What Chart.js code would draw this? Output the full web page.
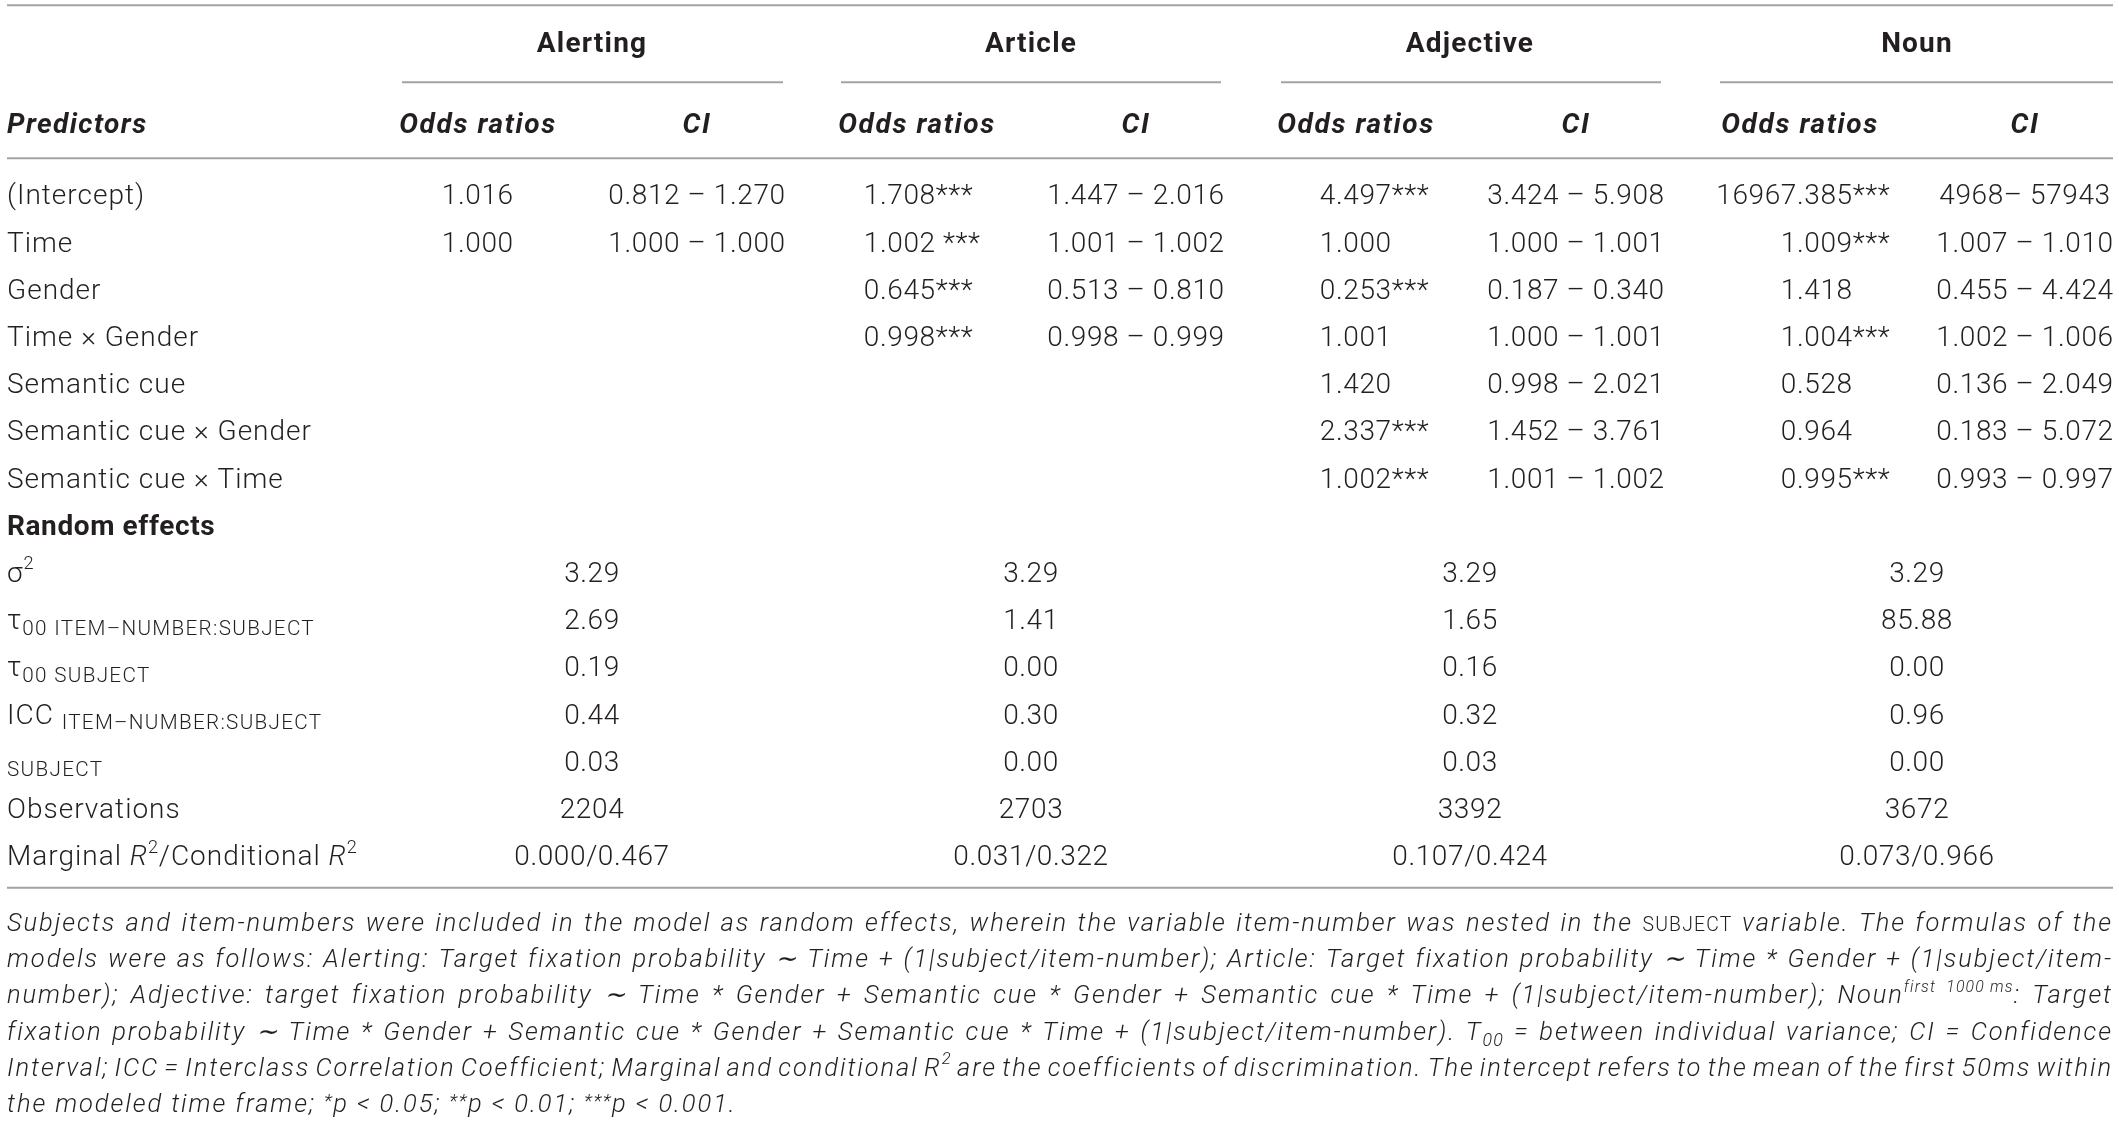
<!DOCTYPE html>
<html lang="en">
<head>
<meta charset="utf-8">
<script src="https://cdn.jsdelivr.net/npm/chart.js@4.4.1/dist/chart.umd.min.js"></script>
<style>
    html, body {margin:0; padding:0; background:#fff;}
    #wrap {width:2119px; height:1127px;}
</style>
</head>
<body>

<div id="wrap"><canvas id="canvas" width="2119" height="1127"></canvas></div>

<script type="text/javascript">
'use strict';

// ---- table values ----
var models = ['Alerting', 'Article', 'Adjective', 'Noun'];
var predictors = ['(Intercept)', 'Time', 'Gender', 'Time \u00d7 Gender', 'Semantic cue',
                  'Semantic cue \u00d7 Gender', 'Semantic cue \u00d7 Time'];

var oddsAlerting  = [1.016, 1.000];
var oddsArticle   = [1.708, 1.002, 0.645, 0.998];
var oddsAdjective = [4.497, 1.000, 0.253, 1.001, 1.420, 2.337, 1.002];
var oddsNoun      = [16967.385, 1.009, 1.418, 1.004, 0.528, 0.964, 0.995];

var sigAlerting  = ['', ''];
var sigArticle   = ['***', ' ***', '***', '***'];
var sigAdjective = ['***', '', '***', '', '', '***', '***'];
var sigNoun      = ['***', '***', '', '***', '', '', '***'];

var ciAlerting  = [[0.812, 1.270], [1.000, 1.000]];
var ciArticle   = [[1.447, 2.016], [1.001, 1.002], [0.513, 0.810], [0.998, 0.999]];
var ciAdjective = [[3.424, 5.908], [1.000, 1.001], [0.187, 0.340], [1.000, 1.001],
                   [0.998, 2.021], [1.452, 3.761], [1.001, 1.002]];
var ciNoun      = [[4968, 57943], [1.007, 1.010], [0.455, 4.424], [1.002, 1.006],
                   [0.136, 2.049], [0.183, 5.072], [0.993, 0.997]];

var sigma2        = [3.29, 3.29, 3.29, 3.29];
var tau00Item     = [2.69, 1.41, 1.65, 85.88];
var tau00Subject  = [0.19, 0.00, 0.16, 0.00];
var iccItem       = [0.44, 0.30, 0.32, 0.96];
var iccSubject    = [0.03, 0.00, 0.03, 0.00];
var observations  = [2204, 2703, 3392, 3672];
var marginalR2    = [0.000, 0.031, 0.107, 0.073];
var conditionalR2 = [0.467, 0.322, 0.424, 0.966];

// row labels of the random effects block (runs: sz = relative size, dy = shift in em)
var randomLabels = [
    [{t: '\u03c3'}, {t: '2', sz: 0.65, dy: -0.45}],
    [{t: '\u03c4'}, {t: '00 ITEM\u2013NUMBER:SUBJECT', sz: 0.74, dy: 0.2, ls: 1.3}],
    [{t: '\u03c4'}, {t: '00 SUBJECT', sz: 0.74, dy: 0.2, ls: 1.3}],
    [{t: 'ICC '}, {t: 'ITEM\u2013NUMBER:SUBJECT', sz: 0.74, dy: 0.2, ls: 1.3}],
    [{t: 'SUBJECT', sz: 0.74, dy: 0.2, ls: 1.3}],
    [{t: 'Observations'}],
    [{t: 'Marginal '}, {t: 'R', s: 'i'}, {t: '2', sz: 0.65, dy: -0.45}, {t: '/Conditional '},
     {t: 'R', s: 'i'}, {t: '2', sz: 0.65, dy: -0.45}]
];

var footnote = [
    [{t: 'Subjects and item-numbers were included in the model as random effects, wherein the variable item-number was nested in the ', s: 'i'},
     {t: 'SUBJECT', sz: 0.76, ls: 1.2}, {t: ' variable. The formulas of the', s: 'i'}],
    [{t: 'models were as follows: Alerting: Target fixation probability \u223c Time + (1|subject/item-number); Article: Target fixation probability \u223c Time * Gender + (1|subject/item-', s: 'i'}],
    [{t: 'number); Adjective: target fixation probability \u223c Time * Gender + Semantic cue * Gender + Semantic cue * Time + (1|subject/item-number); Noun', s: 'i'},
     {t: 'first  1000 ms', s: 'i', sz: 0.62, dy: -0.45}, {t: ': Target', s: 'i'}],
    [{t: 'fixation probability \u223c Time * Gender + Semantic cue * Gender + Semantic cue * Time + (1|subject/item-number). T', s: 'i'},
     {t: '00', s: 'i', sz: 0.7, dy: 0.25}, {t: ' = between individual variance; CI = Confidence', s: 'i'}],
    [{t: 'Interval; ICC = Interclass Correlation Coefficient; Marginal and conditional R', s: 'i'},
     {t: '2', s: 'i', sz: 0.65, dy: -0.45},
     {t: ' are the coefficients of discrimination. The intercept refers to the mean of the first 50ms within', s: 'i'}],
    [{t: 'the modeled time frame; ', s: 'i'}, {t: '*', s: 'i', sz: 0.75, dy: -0.2}, {t: 'p < 0.05; ', s: 'i'},
     {t: '**', s: 'i', sz: 0.75, dy: -0.2}, {t: 'p < 0.01; ', s: 'i'},
     {t: '***', s: 'i', sz: 0.75, dy: -0.2}, {t: 'p < 0.001.', s: 'i'}]
];

// ---- layout (x in px, y in row units) ----
var W = 2119, H = 1127;
var ROW0 = 194.5, ROW_H = 47.2;
var LEFT = 7, RIGHT = 2113;
var groupX = [592, 1031, 1470, 1917];
var orHeadX = [478, 917, 1356, 1800];
var orDotX = [458, 880, 1336, 1797];
var ciX = [697, 1136, 1576, 2025];
var groupRuleX = [[402, 783], [841, 1221], [1281, 1661], [1720, 2113]];
var TOP_RULE = -4.01, GROUP_ROW = -3.23, GROUP_RULE = -2.38, SUB_ROW = -1.52, HEAD_RULE = -0.77;
var BOTTOM_RULE = 14.69, NOTE_ROW = 15.41, NOTE_STEP = 0.767;

var FONT = 'Roboto, "Liberation Sans", sans-serif';
var INK = '#231f20';
var RULE = '#a3a3a3';
var CAP = 0.711;
var LS_INCLUDED = null;

function fontFor(run, size) {
    var st = run.s || 'n';
    var wt = st.indexOf('b') >= 0 ? '700' : '300';
    var it = st.indexOf('i') >= 0 ? 'italic ' : '';
    return it + wt + ' ' + (size * (run.sz || 1)).toFixed(1) + 'px ' + FONT;
}

function setSpacing(ctx, ls) {
    if ('letterSpacing' in ctx) ctx.letterSpacing = ls.toFixed(2) + 'px';
}

function measure(ctx, text, ls) {
    if (LS_INCLUDED === null) {
        if ('letterSpacing' in ctx) {
            ctx.letterSpacing = '0px';
            var a = ctx.measureText('abc').width;
            ctx.letterSpacing = '10px';
            var b = ctx.measureText('abc').width;
            ctx.letterSpacing = '0px';
            LS_INCLUDED = (b - a) > 15;
        } else {
            LS_INCLUDED = true;
        }
    }
    setSpacing(ctx, ls);
    var w = ctx.measureText(text).width;
    if (!LS_INCLUDED) w += ls * text.length;
    return w;
}

function runSpacing(r, ls) {
    return r.ls != null ? r.ls : ls * (r.sz || 1);
}

function naturalWidth(ctx, runs, size, ls) {
    return runs.reduce(function(acc, r) {
        ctx.font = fontFor(r, size);
        return acc + measure(ctx, r.t, runSpacing(r, ls));
    }, 0);
}

function drawRuns(ctx, runs, x, y, size, align, ls, justifyW) {
    var base = y + CAP * size / 2;
    var widths = runs.map(function(r) {
        ctx.font = fontFor(r, size);
        return measure(ctx, r.t, runSpacing(r, ls));
    });
    var total = widths.reduce(function(a, b) { return a + b; }, 0);
    var extra = 0;
    if (justifyW) {
        var n = 0;
        runs.forEach(function(r) { if (!r.sz) n += r.t.split(' ').length - 1; });
        if (n) extra = (justifyW - total) / n;
    }
    var cx = x;
    if (align === 'center') cx = x - total / 2;
    else if (align === 'right') cx = x - total;
    else if (align === 'dot') {
        ctx.font = fontFor(runs[0], size);
        cx = x - measure(ctx, runs[0].t.split('.')[0], runSpacing(runs[0], ls));
    }
    ctx.fillStyle = INK;
    ctx.textBaseline = 'alphabetic';
    ctx.textAlign = 'left';
    runs.forEach(function(r, i) {
        var rls = runSpacing(r, ls);
        ctx.font = fontFor(r, size);
        setSpacing(ctx, rls);
        var by = base + (r.dy || 0) * size;
        if (extra && !r.sz) {
            var parts = r.t.split(' ');
            var sp = measure(ctx, ' ', rls);
            parts.forEach(function(p, k) {
                setSpacing(ctx, rls);
                ctx.fillText(p, cx, by);
                cx += measure(ctx, p, rls);
                if (k < parts.length - 1) cx += sp + extra;
            });
        } else {
            ctx.fillText(r.t, cx, by);
            cx += widths[i];
        }
    });
    setSpacing(ctx, 0);
}

var tableText = {
    id: 'tableText',
    afterDatasetsDraw: function(chart) {
        var ctx = chart.ctx;
        ctx.save();
        chart.data.datasets.forEach(function(ds, i) {
            if (!ds.cells) return;
            var cells = ds.cells.map(function(c) {
                return typeof c === 'string' ? [{t: c, s: ds.textStyle}] : c;
            });
            var ls = ds.spacing;
            var target = RIGHT - LEFT;
            if (ds.justify) {
                // tracking that makes the justified lines fit with plain word spaces
                var sum = 0, cnt = 0;
                cells.slice(0, -1).forEach(function(runs) {
                    var nat = naturalWidth(ctx, runs, ds.textSize, 0);
                    var chars = runs.reduce(function(a, r) { return a + (r.sz ? 0 : r.t.length); }, 0);
                    sum += (target - nat) / chars; cnt++;
                });
                ls = Math.max(0, sum / cnt * 0.92);
            }
            chart.getDatasetMeta(i).data.forEach(function(pt, j) {
                var jw = ds.justify && j < cells.length - 1 ? target : 0;
                drawRuns(ctx, cells[j], pt.x, pt.y, ds.textSize, ds.textAlign, ls, jw);
            });
        });
        ctx.restore();
    }
};

function textSet(points, cells, align, size, style, spacing) {
    return {data: points, cells: cells, textAlign: align, textSize: size || 28,
            textStyle: style || 'n', spacing: spacing == null ? 0.6 : spacing,
            justify: false, pointRadius: 0, showLine: false};
}

function ruleSet(x0, x1, row) {
    return {data: [{x: x0, y: row}, {x: x1, y: row}], showLine: true, borderColor: RULE,
            borderWidth: 2, pointRadius: 0, fill: false};
}

function fmtCI(p) {
    if (p[0] >= 100) return p[0] + '\u2013 ' + p[1];
    return p[0].toFixed(3) + ' \u2013 ' + p[1].toFixed(3);
}

function drawGraphs() {
    var odds = [oddsAlerting, oddsArticle, oddsAdjective, oddsNoun];
    var sigs = [sigAlerting, sigArticle, sigAdjective, sigNoun];
    var cis = [ciAlerting, ciArticle, ciAdjective, ciNoun];
    var randomRows = [
        sigma2.map(function(v) { return v.toFixed(2); }),
        tau00Item.map(function(v) { return v.toFixed(2); }),
        tau00Subject.map(function(v) { return v.toFixed(2); }),
        iccItem.map(function(v) { return v.toFixed(2); }),
        iccSubject.map(function(v) { return v.toFixed(2); }),
        observations.map(function(v) { return String(v); }),
        marginalR2.map(function(v, k) { return v.toFixed(3) + '/' + conditionalR2[k].toFixed(3); })
    ];

    var ds = [];
    // rules
    ds.push(ruleSet(LEFT, RIGHT, TOP_RULE));
    groupRuleX.forEach(function(g) { ds.push(ruleSet(g[0], g[1], GROUP_RULE)); });
    ds.push(ruleSet(LEFT, RIGHT, HEAD_RULE));
    ds.push(ruleSet(LEFT, RIGHT, BOTTOM_RULE));

    // headers
    ds.push(textSet(models.map(function(m, k) { return {x: groupX[k], y: GROUP_ROW}; }),
                    models, 'center', 28, 'b', 1.2));
    ds.push(textSet([{x: LEFT, y: SUB_ROW}], ['Predictors'], 'left', 28, 'bi', 1.4));
    models.forEach(function(m, k) {
        ds.push(textSet([{x: orHeadX[k], y: SUB_ROW}, {x: ciX[k], y: SUB_ROW}],
                        ['Odds ratios', 'CI'], 'center', 28, 'bi', 1.6));
    });

    // left column
    ds.push(textSet(predictors.map(function(p, j) { return {x: LEFT, y: j}; }), predictors, 'left', 28, 'n', 1.0));
    ds.push(textSet([{x: LEFT, y: predictors.length}], ['Random effects'], 'left', 28, 'b', 0.6));
    ds.push(textSet(randomLabels.map(function(r, j) { return {x: LEFT, y: predictors.length + 1 + j}; }),
                    randomLabels, 'left', 28, 'n', 1.0));

    // fixed and random effects per model
    models.forEach(function(m, k) {
        ds.push(textSet(odds[k].map(function(v, j) { return {x: orDotX[k], y: j}; }),
                        odds[k].map(function(v, j) {
                            return [{t: v.toFixed(3)}, {t: sigs[k][j]}];
                        }), 'dot'));
        ds.push(textSet(cis[k].map(function(v, j) { return {x: ciX[k], y: j}; }),
                        cis[k].map(fmtCI), 'center'));
        ds.push(textSet(randomRows.map(function(r, j) { return {x: groupX[k], y: predictors.length + 1 + j}; }),
                        randomRows.map(function(r) { return r[k]; }), 'center'));
    });

    // footnote
    var note = textSet(footnote.map(function(f, j) { return {x: LEFT, y: NOTE_ROW + j * NOTE_STEP}; }),
                       footnote, 'left', 25.5, 'i', 0);
    note.justify = true;
    ds.push(note);

    new Chart(document.getElementById('canvas'), {
        type: 'scatter',
        data: {datasets: ds},
        options: {
            responsive: false,
            animation: false,
            layout: {padding: 0},
            plugins: {legend: {display: false}, tooltip: {enabled: false}},
            scales: {
                x: {type: 'linear', min: 0, max: W, display: false},
                y: {type: 'linear', min: -ROW0 / ROW_H, max: (H - ROW0) / ROW_H, reverse: true, display: false}
            }
        },
        plugins: [tableText]
    });
}

window.onload = function() {
    var loads = ['300 28px Roboto', 'italic 300 24px Roboto', 'bold 28px Roboto', 'italic bold 28px Roboto']
        .map(function(f) { return document.fonts.load(f).catch(function() {}); });
    Promise.all(loads).then(drawGraphs, drawGraphs);
};
</script>
</body>
</html>
